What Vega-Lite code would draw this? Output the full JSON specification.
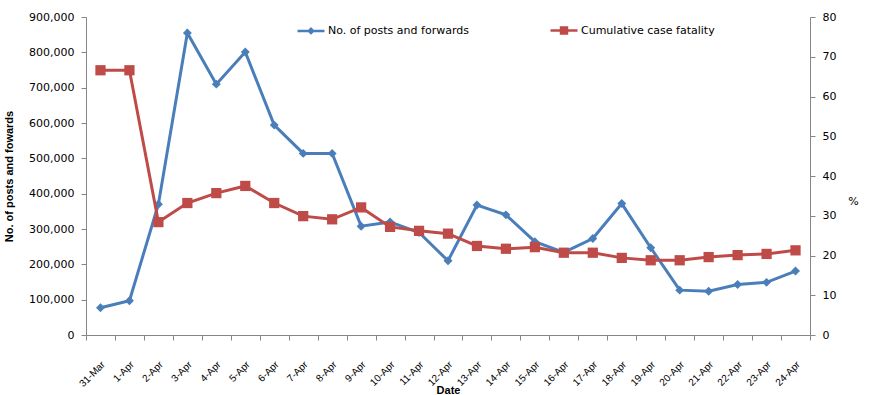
{
  "$schema": "https://vega.github.io/schema/vega-lite/v6.json",
  "autosize": {"type": "none"},
  "width": 724,
  "height": 318,
  "padding": {"left": 86, "top": 17, "right": 63, "bottom": 60},
  "background": "white",
  "config": {
    "view": {"stroke": null},
    "axis": {
      "grid": false,
      "domainColor": "#868686",
      "tickColor": "#868686",
      "tickSize": 5,
      "labelFont": "DejaVu Sans",
      "labelFontSize": 11,
      "labelColor": "#000000",
      "titleFont": "Liberation Sans",
      "titleFontSize": 11,
      "titleFontWeight": "bold",
      "titleColor": "#000000"
    }
  },
  "data": {
    "values": [
      {"date": "31-Mar", "posts": 77000, "fatality": 66.6},
      {"date": "1-Apr", "posts": 97000, "fatality": 66.6},
      {"date": "2-Apr", "posts": 370000, "fatality": 28.4},
      {"date": "3-Apr", "posts": 855000, "fatality": 33.2},
      {"date": "4-Apr", "posts": 710000, "fatality": 35.7},
      {"date": "5-Apr", "posts": 801000, "fatality": 37.5},
      {"date": "6-Apr", "posts": 594000, "fatality": 33.2},
      {"date": "7-Apr", "posts": 514000, "fatality": 29.9},
      {"date": "8-Apr", "posts": 514000, "fatality": 29.1},
      {"date": "9-Apr", "posts": 308000, "fatality": 32.1},
      {"date": "10-Apr", "posts": 320000, "fatality": 27.2},
      {"date": "11-Apr", "posts": 290000, "fatality": 26.2},
      {"date": "12-Apr", "posts": 210000, "fatality": 25.5},
      {"date": "13-Apr", "posts": 368000, "fatality": 22.4},
      {"date": "14-Apr", "posts": 340000, "fatality": 21.7},
      {"date": "15-Apr", "posts": 264000, "fatality": 22.1},
      {"date": "16-Apr", "posts": 234000, "fatality": 20.7},
      {"date": "17-Apr", "posts": 273000, "fatality": 20.7},
      {"date": "18-Apr", "posts": 372000, "fatality": 19.4},
      {"date": "19-Apr", "posts": 247000, "fatality": 18.8},
      {"date": "20-Apr", "posts": 127000, "fatality": 18.8},
      {"date": "21-Apr", "posts": 124000, "fatality": 19.6},
      {"date": "22-Apr", "posts": 143000, "fatality": 20.1},
      {"date": "23-Apr", "posts": 149000, "fatality": 20.4},
      {"date": "24-Apr", "posts": 181000, "fatality": 21.3}
    ]
  },
  "encoding": {
    "x": {
      "field": "date",
      "type": "ordinal",
      "sort": null,
      "bandPosition": 0.5,
      "scale": {"type": "band", "paddingInner": 0, "paddingOuter": 0},
      "axis": {
        "title": "Date",
        "tickBand": "extent",
        "labelAngle": -45,
        "labelFont": "Liberation Sans",
        "labelFontSize": 10,
        "labelOffset": -1,
        "labelPadding": 19,
        "titleY": 55,
        "titleBaseline": "middle"
      }
    },
    "color": {
      "datum": "No. of posts and forwards",
      "scale": {
        "domain": ["No. of posts and forwards", "Cumulative case fatality"],
        "range": ["#4A7EBB", "#BE4B48"]
      },
      "legend": {
        "title": null,
        "orient": "none",
        "direction": "horizontal",
        "legendX": 210,
        "legendY": -1.5,
        "padding": 0,
        "symbolSize": 729,
        "labelOffset": 2,
        "columnPadding": 76,
        "labelFont": "DejaVu Sans",
        "labelFontSize": 11,
        "labelColor": "#000000",
        "encode": {
          "symbols": {
            "update": {
              "shape": {"signal": "datum.value === 'No. of posts and forwards' ? 'M-1,0H1M0,-0.16L0.16,0L0,0.16L-0.16,0Z' : 'M-1,0H1M-0.22,-0.22H0.22V0.22H-0.22Z'"},
              "fill": {"scale": "color", "field": "value"},
              "stroke": {"scale": "color", "field": "value"},
              "strokeWidth": {"value": 2.5},
              "opacity": {"value": 1},
              "fillOpacity": {"value": 1},
              "strokeOpacity": {"value": 1}
            }
          }
        }
      }
    }
  },
  "layer": [
    {
      "encoding": {
        "y": {
          "field": "posts",
          "type": "quantitative",
          "scale": {"domain": [0, 900000], "nice": false},
          "axis": {
            "title": "No. of posts and fowards",
            "values": [0, 100000, 200000, 300000, 400000, 500000, 600000, 700000, 800000, 900000],
            "format": ",.0f",
            "labelPadding": 7,
            "titleX": -77,
            "titleY": 159,
            "titleAlign": "center",
            "titleBaseline": "middle"
          }
        },
        "color": {"datum": "No. of posts and forwards"}
      },
      "layer": [
        {"mark": {"type": "line", "strokeWidth": 3}},
        {"mark": {"type": "point", "shape": "diamond", "filled": true, "size": 80, "opacity": 1}}
      ]
    },
    {
      "encoding": {
        "y": {
          "field": "fatality",
          "type": "quantitative",
          "scale": {"domain": [0, 80], "nice": false},
          "axis": {
            "orient": "right",
            "title": "%",
            "values": [0, 10, 20, 30, 40, 50, 60, 70, 80],
            "labelPadding": 7,
            "titleAngle": 0,
            "titleFont": "DejaVu Sans",
            "titleFontWeight": "normal",
            "titleX": 43,
            "titleY": 184,
            "titleAlign": "center",
            "titleBaseline": "middle"
          }
        },
        "color": {"datum": "Cumulative case fatality"}
      },
      "layer": [
        {"mark": {"type": "line", "strokeWidth": 3}},
        {"mark": {"type": "point", "shape": "square", "filled": true, "size": 105, "opacity": 1}}
      ]
    }
  ],
  "resolve": {"scale": {"y": "independent"}}
}
